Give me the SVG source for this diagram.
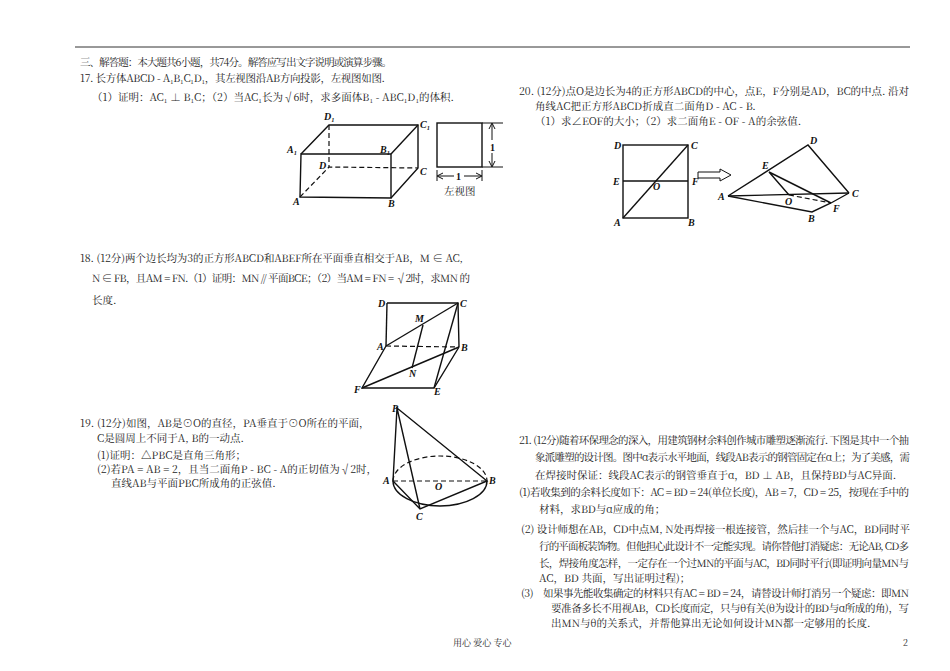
<svg xmlns="http://www.w3.org/2000/svg" width="950" height="671" viewBox="0 0 950 671">
<style>
text{font-family:"Noto Serif CJK SC","Noto Sans CJK SC",serif;font-size:10.5px;fill:#222}
.l{font-family:"Liberation Serif",serif;font-weight:bold;font-style:italic;font-size:10px;fill:#111}
.s{stroke:#111;stroke-width:1.4;fill:none}
.d{stroke:#111;stroke-width:1.2;fill:none;stroke-dasharray:5,3}
</style>
<rect width="950" height="671" fill="#fff"/>
<line x1="75" y1="47" x2="910" y2="47" stroke="#333" stroke-width="1"/>
<g id="q17">
<text x="80" y="66" textLength="312">三、解答题：本大题共6小题，共74分。解答应写出文字说明或演算步骤。</text>
<text x="80" y="82" textLength="305">17. 长方体ABCD - A₁B₁C₁D₁，其左视图沿AB方向投影，左视图如图.</text>
<text x="92" y="101">（1）证明：AC₁ ⊥ B₁C；（2）当AC₁长为√6时，求多面体B₁ - ABC₁D₁的体积.</text>
</g>
<g id="fig17">
<polygon class="s" points="301,154 391,154 391,198 300,197"/>
<polyline class="s" points="301,154 329,125 418,125 418,168 391,198"/>
<line class="s" x1="391" y1="154" x2="418" y2="125"/>
<polyline class="d" points="300,197 329,167 418,168"/>
<line class="d" x1="329" y1="125" x2="329" y2="167"/>
<text class="l" x="324" y="120">D₁</text><text class="l" x="420" y="128">C₁</text>
<text class="l" x="287" y="153">A₁</text><text class="l" x="380" y="153">B₁</text>
<text class="l" x="319" y="169">D</text><text class="l" x="420" y="175">C</text>
<text class="l" x="293" y="205">A</text><text class="l" x="388" y="207">B</text>
<rect class="s" x="437" y="123" width="45" height="44"/>
<line x1="482" y1="123" x2="503" y2="123" stroke="#111"/><line x1="482" y1="167" x2="503" y2="167" stroke="#111"/>
<line x1="492" y1="124" x2="492" y2="140" stroke="#111"/><line x1="492" y1="153" x2="492" y2="166" stroke="#111"/>
<path d="M489,129 L492,123 L495,129 M489,161 L492,167 L495,161" stroke="#111" fill="none"/>
<text class="l" x="490" y="151" style="font-style:normal">1</text>
<line x1="437" y1="170" x2="437" y2="181" stroke="#111"/><line x1="482" y1="170" x2="482" y2="181" stroke="#111"/>
<line x1="438" y1="176" x2="454" y2="176" stroke="#111"/><line x1="464" y1="176" x2="481" y2="176" stroke="#111"/>
<path d="M443,173 L437,176 L443,179 M476,173 L482,176 L476,179" stroke="#111" fill="none"/>
<text class="l" x="456" y="180" style="font-style:normal">1</text>
<text x="444" y="195">左视图</text>
</g>
<g id="q18">
<text x="80" y="262" textLength="383">18. (12分)两个边长均为3的正方形ABCD和ABEF所在平面垂直相交于AB，M ∈ AC,</text>
<text x="92" y="282" textLength="378">N ∈ FB，且AM = FN.（1）证明：MN // 平面BCE；（2）当AM = FN = √2时，求MN 的</text>
<text x="92" y="304">长度.</text>
</g>
<g id="fig18">
<polyline class="s" points="387,303 458,303 459,347"/>
<line class="s" x1="387" y1="303" x2="386" y2="346"/>
<line class="s" x1="386" y1="346" x2="458" y2="303"/>
<line class="d" x1="386" y1="346" x2="459" y2="347"/>
<polyline class="s" points="386,346 362,388 434,388 459,347"/>
<line class="s" x1="362" y1="388" x2="459" y2="347"/>
<line class="s" x1="434" y1="388" x2="458" y2="303"/>
<line class="s" x1="423" y1="325" x2="412" y2="368"/>
<text class="l" x="378" y="307">D</text><text class="l" x="460" y="307">C</text>
<text class="l" x="377" y="350">A</text><text class="l" x="461" y="351">B</text>
<text class="l" x="354" y="393">F</text><text class="l" x="434" y="395">E</text>
<text class="l" x="415" y="322">M</text><text class="l" x="409" y="377">N</text>
</g>
<g id="q19">
<text x="80" y="427">19. (12分)如图，AB是⊙O的直径，PA垂直于⊙O所在的平面，</text>
<text x="97" y="442">C是圆周上不同于A, B的一动点.</text>
<text x="97" y="459">(1)证明：△PBC是直角三角形；</text>
<text x="97" y="473">(2)若PA = AB = 2，且当二面角P - BC - A的正切值为√2时，</text>
<text x="111" y="487">直线AB与平面PBC所成角的正弦值.</text>
</g>
<g id="fig19">
<path class="s" d="M393,481 A47,25 0 0 0 487,481"/>
<path class="d" d="M393,481 A47,25 0 0 1 487,481"/>
<line class="d" x1="393" y1="481" x2="487" y2="481"/>
<polyline class="s" points="397,408 393,481 420,509 487,481 397,408 420,509"/>
<text class="l" x="392" y="412">P</text><text class="l" x="383" y="484">A</text>
<text class="l" x="489" y="484">B</text><text class="l" x="435" y="490">O</text><text class="l" x="416" y="520">C</text>
</g>
<g id="q20">
<text x="519" y="95" textLength="390">20. (12分)点O是边长为4的正方形ABCD的中心，点E，F分别是AD，BC的中点. 沿对</text>
<text x="535" y="110">角线AC把正方形ABCD折成直二面角D - AC - B.</text>
<text x="535" y="125">（1）求∠EOF的大小；（2）求二面角E - OF - A的余弦值.</text>
</g>
<g id="fig20">
<rect class="s" x="623" y="145" width="65" height="73"/>
<line class="s" x1="623" y1="218" x2="688" y2="145"/>
<line class="s" x1="623" y1="181" x2="688" y2="181"/>
<text class="l" x="614" y="149">D</text><text class="l" x="691" y="149">C</text>
<text class="l" x="613" y="185">E</text><text class="l" x="692" y="185">F</text>
<text class="l" x="653" y="190">O</text><text class="l" x="614" y="226">A</text><text class="l" x="688" y="226">B</text>
<path d="M698,172 L720,172 L720,169 L731,175 L720,181 L720,178 L698,178 Z" stroke="#111" fill="#fff"/>
<polyline class="s" points="728,196 808,145 849,193"/>
<line class="s" x1="728" y1="196" x2="849" y2="193"/>
<polyline class="s" points="728,196 812,212 831,203 849,193"/>
<polyline class="s" points="789,195 769,172 831,203"/>
<line class="d" x1="789" y1="195" x2="831" y2="203"/>
<text class="l" x="810" y="144">D</text><text class="l" x="762" y="169">E</text>
<text class="l" x="718" y="200">A</text><text class="l" x="785" y="205">O</text>
<text class="l" x="852" y="197">C</text><text class="l" x="833" y="212">F</text><text class="l" x="808" y="222">B</text>
</g>
<g id="q21">
<text x="519" y="444" textLength="390">21. (12分)随着环保理念的深入，用建筑钢材余料创作城市雕塑逐渐流行. 下图是其中一个抽</text>
<text x="535" y="461" textLength="375">象派雕塑的设计图。图中α表示水平地面，线段AB表示的钢管固定在α上；为了美感，需</text>
<text x="535" y="479">在焊接时保证：线段AC表示的钢管垂直于α，BD ⊥ AB，且保持BD与AC异面.</text>
<text x="519" y="496" textLength="390">(1)若收集到的余料长度如下：AC = BD = 24(单位长度)，AB = 7，CD = 25，按现在手中的</text>
<text x="539" y="513">材料，求BD与α应成的角；</text>
<text x="521" y="533" textLength="389">(2) 设计师想在AB，CD中点M, N处再焊接一根连接管，然后挂一个与AC，BD同时平</text>
<text x="539" y="550" textLength="370">行的平面板装饰物。但他担心此设计不一定能实现。请你替他打消疑虑：无论AB, CD多</text>
<text x="539" y="567" textLength="370">长，焊接角度怎样，一定存在一个过MN的平面与AC，BD同时平行(即证明向量MN与</text>
<text x="539" y="582">AC，BD 共面，写出证明过程)；</text>
<text x="521" y="597" textLength="388">(3)　如果事先能收集确定的材料只有AC = BD = 24，请替设计师打消另一个疑虑：即MN</text>
<text x="551" y="612" textLength="358">要准备多长不用视AB，CD长度而定，只与θ有关(θ为设计的BD与α所成的角)，写</text>
<text x="551" y="627">出MN与θ的关系式，并帮他算出无论如何设计MN都一定够用的长度.</text>
</g>
<text x="453" y="646" style="font-size:9px">用心 爱心 专心</text>
<text x="903" y="646" style="font-size:9px">2</text>
</svg>
